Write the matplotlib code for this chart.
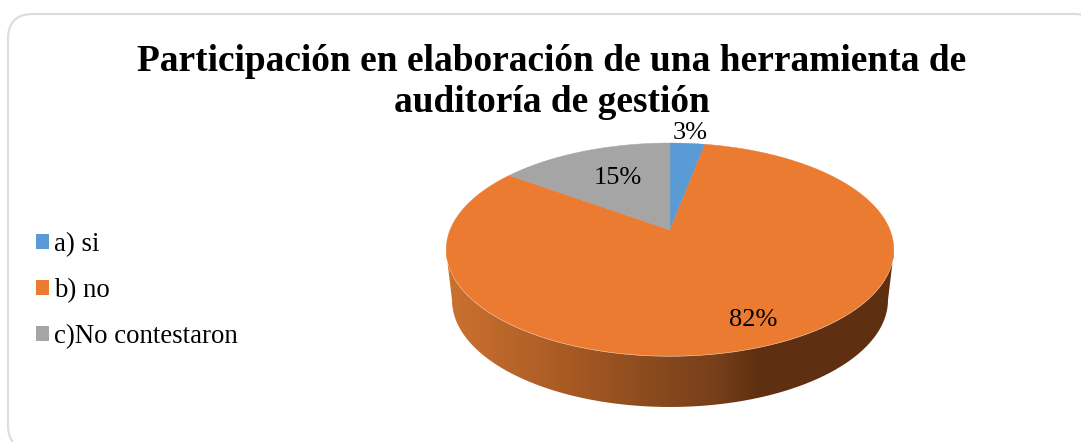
import numpy as np
import matplotlib
matplotlib.use('Agg')
import matplotlib.pyplot as plt
import matplotlib.patches as patches
from matplotlib.path import Path
from matplotlib.colors import LinearSegmentedColormap

plt.rcParams['font.family'] = ['Liberation Serif', 'DejaVu Serif']

title = 'Participación en elaboración de una herramienta de\nauditoría de gestión'
categories = ['a) si', 'b) no', 'c)No contestaron']
values = [3, 82, 15]
labels = ['3%', '82%', '15%']
colors = ['#5b9bd5', '#eb7b31', '#a5a5a5']

W, H = 1081, 442
fig = plt.figure(figsize=(W / 100, H / 100), dpi=100, facecolor='white')
ax = fig.add_axes([0, 0, 1, 1])
ax.set_xlim(0, W)
ax.set_ylim(H, 0)
ax.set_axis_off()

# card border, runs off the right and bottom edge
ax.add_patch(patches.FancyBboxPatch((8, 14), 1092, 436,
                                    boxstyle='round,pad=0,rounding_size=25',
                                    fc='white', ec='#dcdcdc', lw=1.5, zorder=0))

# the pie lies tilted, so the circle goes through a perspective map
cx, cy = 670, 230
c, k, K = 0.183, 102.9, 220

def project(theta):
    # theta clockwise from the top, radians
    d = 1 + c * np.cos(theta)
    return cx + K * np.sin(theta) / d, cy - k * np.cos(theta) / d

# side wall, horizontal gradient clipped to the rim
t = np.linspace(np.pi, 0, 200)
top_x = 670 + 224 * np.cos(t)
top_y = 250 + 106.5 * np.sin(t)
low_x = 670 + 218 * np.cos(t[::-1])
low_y = 300 + 107 * np.sin(t[::-1])
side = np.column_stack([np.r_[top_x, low_x], np.r_[top_y, low_y]])
side_patch = patches.PathPatch(Path(np.vstack([side, side[:1]])), fc='none', ec='none')
ax.add_patch(side_patch)
cmap = LinearSegmentedColormap.from_list('side', [(0, '#cc7230'), (0.25, '#ab5c25'),
                                                  (0.45, '#8c4b1e'), (0.6, '#77401a'),
                                                  (0.7, '#5e2f10'), (1, '#5f3112')])
img = ax.imshow(np.linspace(0, 1, 256)[None, :], cmap=cmap, extent=(446, 894, 410, 240),
                aspect='auto', zorder=1)
img.set_clip_path(side_patch)
ax.set_xlim(0, W)
ax.set_ylim(H, 0)

# top face
edges = np.r_[0, np.cumsum(values)] / np.sum(values) * 2 * np.pi
for i in range(len(values)):
    th = np.linspace(edges[i], edges[i + 1], 150)
    x, y = project(th)
    ax.fill(np.r_[cx, x], np.r_[cy, y], color=colors[i], lw=0.3, zorder=2)

ax.text(551.5, 82, title, ha='center', va='center', fontsize=26.9, fontweight='bold',
        linespacing=1.25, zorder=3)

label_pos = [(690, 133), (753, 320), (618, 178)]
for lab, (lx, ly) in zip(labels, label_pos):
    ax.text(lx, ly, lab, ha='center', va='center', fontsize=19, zorder=3)

handles = [patches.Patch(fc=col, ec='none') for col in colors]
ax.legend(handles, categories, loc='upper left', bbox_to_anchor=(36 / W, 1 - 232 / H),
          frameon=False, fontsize=19.3, handlelength=0.485, handleheight=0.485,
          handletextpad=0.19, labelspacing=0.79, borderpad=0, borderaxespad=0)

fig.savefig('out.png', dpi=100)
